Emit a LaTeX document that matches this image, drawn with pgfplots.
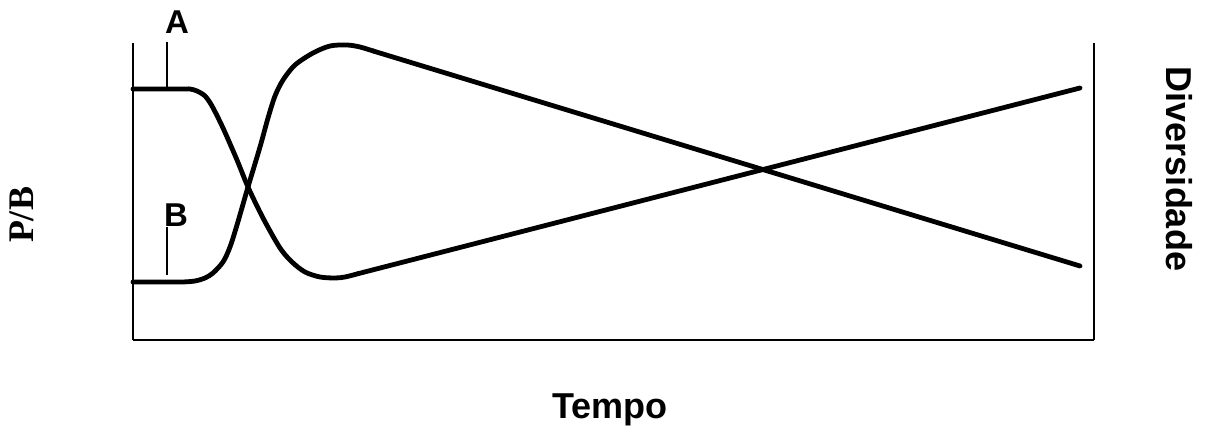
\documentclass[border=0pt]{standalone}
\usepackage{fontspec}
\setmainfont{Liberation Sans}
\newfontfamily\serifbf{Liberation Serif}
\usepackage{pgfplots}
\pgfplotsset{compat=1.18}

% P/B curve (A): smooth part, then straight rise
\pgfplotstableread{
x y
0 251
50 251
57 251
64 249
72 244
79 234
90 212
104 180
115 153
130 122
147 92
159 78
172 68
187 63
202 62
212 63
225 66.3
}\curveAsmooth
\pgfplotstableread{
x y
225 66.3
947 252
}\curveAline

% Diversity curve (B)
\pgfplotstableread{
x y
0 58
44 58
50 58
62 59
72 62
80 67
90 78
97 93
104 115
115 153
127 193
135 222
142 244
150 260
162 275
180 287
197 294
214 295
227 293
240 289.05
}\curveBsmooth
\pgfplotstableread{
x y
240 289.05
947 74
}\curveBline

\begin{document}
\begin{tikzpicture}
\useasboundingbox (0,0) rectangle (603.5pt,216.5pt);
\begin{axis}[
    at={(66.5pt,46.5pt)}, anchor=south west,
    scale only axis, width=480.5pt, height=148.5pt,
    xmin=0, xmax=961, ymin=0, ymax=297,
    xtick=\empty, ytick=\empty,
    axis x line=bottom, axis y line=box,
    axis line style={-, line width=1.4pt},
    every outer x axis line/.append style={-},
    every outer y axis line/.append style={-},
    clip=false
]
\addplot[black, line width=2.4pt, smooth, tension=0.5, line cap=round] table {\curveAsmooth};
\addplot[black, line width=2.4pt, line cap=round] table {\curveAline};
\addplot[black, line width=2.4pt, smooth, tension=0.5, line cap=round] table {\curveBsmooth};
\addplot[black, line width=2.4pt, line cap=round] table {\curveBline};

\draw[line width=0.8pt] (axis cs:34,298) -- (axis cs:34,251);
\draw[line width=0.8pt] (axis cs:34,113) -- (axis cs:34,65);
\node[font=\fontsize{16.5}{16.5}\selectfont\bfseries] at (axis cs:44,318) {A};
\node[font=\fontsize{16.5}{16.5}\selectfont\bfseries] at (axis cs:43,125) {B};
\end{axis}
\node[rotate=90, font=\fontsize{18}{18}\serifbf\bfseries] at (11pt,109pt) {P/B};
\node[anchor=base, font=\fontsize{18}{18}\selectfont\bfseries] at (305pt,7pt) {Tempo};
\node[rotate=-90, font=\fontsize{18}{18}\selectfont\bfseries] at (589.5pt,132pt) {Diversidade};
\end{tikzpicture}
\end{document}
